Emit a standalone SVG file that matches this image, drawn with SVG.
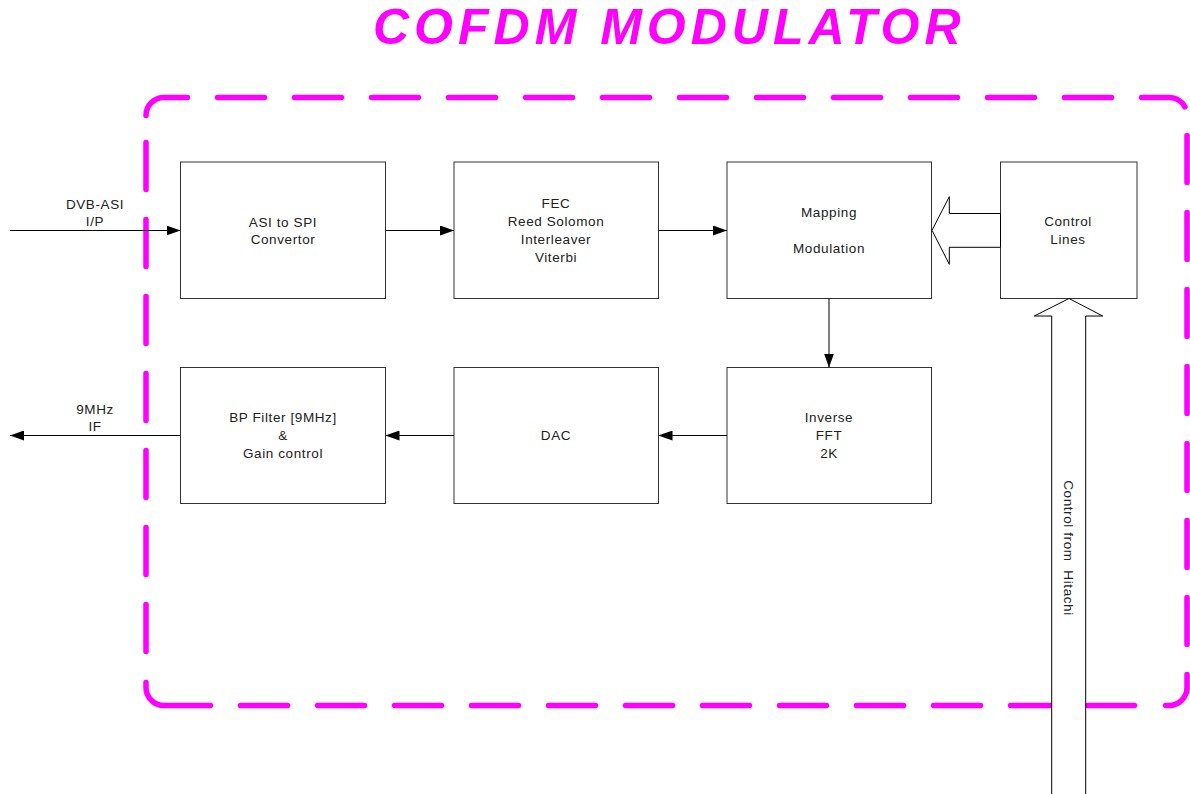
<svg xmlns="http://www.w3.org/2000/svg" width="1190" height="794" viewBox="0 0 1190 794">
<style>
.border{fill:none;stroke:#FF00FF;stroke-width:5.5;stroke-linecap:round}
.dash{stroke-dasharray:47 30}
.box{fill:#fff;stroke:#333;stroke-width:1}
.lbl{font-family:"Liberation Sans",Arial,sans-serif;font-size:13.5px;letter-spacing:0.6px;fill:#222;text-anchor:middle}
.line{stroke:#000;stroke-width:1;fill:none}
.blk{fill:#fff;stroke:#000;stroke-width:1}
.title{font-family:"Liberation Sans",Arial,sans-serif;font-size:50px;font-weight:bold;font-style:italic;fill:#FF00FF;letter-spacing:5px}
</style>
<defs>
<marker id="ah" viewBox="0 0 14 10" refX="14" refY="5" markerWidth="14" markerHeight="10" markerUnits="userSpaceOnUse" orient="auto">
<path d="M0,0 L14,5 L0,10 Z" fill="#000"/>
</marker>
</defs>
<rect width="1190" height="794" fill="#fff"/>
<text class="title" x="373" y="44">COFDM MODULATOR</text>
<g id="border">
<path class="border" d="M146,115.5 V115 A18,18 0 0 1 164,97.5 H187.5"/>
<path class="border" d="M1141.5,97.5 H1169 A18,18 0 0 1 1184.9,106.8"/>
<path class="border" d="M1187,674.5 V687.5 A18,18 0 0 1 1169,705.5 H1165.5"/>
<path class="border" d="M210.5,705.5 H164 A18,18 0 0 1 146,687.5 V682.5"/>
<path class="border dash" d="M217.5,97.5 H1112"/>
<path class="border dash" d="M1187,135.5 V645"/>
<path class="border dash" d="M240.5,705.5 H1135"/>
<path class="border dash" d="M146,142.5 V652"/>
</g>
<g id="asi2spi">
<rect class="box" x="180.5" y="162" width="205" height="136.5"/>
<text class="lbl" x="283" y="226.5">ASI to SPI</text>
<text class="lbl" x="283" y="244">Convertor</text>
</g>
<g id="fec">
<rect class="box" x="454" y="162" width="204.5" height="136.5"/>
<text class="lbl" x="556" y="208">FEC</text>
<text class="lbl" x="556" y="226">Reed Solomon</text>
<text class="lbl" x="556" y="244">Interleaver</text>
<text class="lbl" x="556" y="262">Viterbi</text>
</g>
<g id="mapping">
<rect class="box" x="727" y="162" width="204.5" height="136.5"/>
<text class="lbl" x="829" y="217">Mapping</text>
<text class="lbl" x="829" y="253">Modulation</text>
</g>
<g id="control">
<rect class="box" x="1000.5" y="162" width="136.5" height="136.5"/>
<text class="lbl" x="1068" y="225.5">Control</text>
<text class="lbl" x="1068" y="243.5">Lines</text>
</g>
<g id="bpfilter">
<rect class="box" x="180.5" y="367.5" width="205" height="136"/>
<text class="lbl" x="283" y="421.5">BP Filter [9MHz]</text>
<text class="lbl" x="283" y="439.5">&amp;</text>
<text class="lbl" x="283" y="457.5">Gain control</text>
</g>
<g id="dac">
<rect class="box" x="454" y="367.5" width="204.5" height="136"/>
<text class="lbl" x="556" y="440">DAC</text>
</g>
<g id="ifft">
<rect class="box" x="727" y="367.5" width="204.5" height="136"/>
<text class="lbl" x="829" y="422">Inverse</text>
<text class="lbl" x="829" y="440">FFT</text>
<text class="lbl" x="829" y="458">2K</text>
</g>
<g id="connectors">
<line class="line" x1="10" y1="230.5" x2="180.5" y2="230.5" marker-end="url(#ah)"/>
<text class="lbl" x="95" y="208.5">DVB-ASI</text>
<text class="lbl" x="95" y="226">I/P</text>
<line class="line" x1="385.5" y1="230.5" x2="454" y2="230.5" marker-end="url(#ah)"/>
<line class="line" x1="658.5" y1="230.5" x2="727" y2="230.5" marker-end="url(#ah)"/>
<line class="line" x1="829" y1="298.5" x2="829" y2="367.5" marker-end="url(#ah)"/>
<line class="line" x1="727" y1="435.5" x2="658.5" y2="435.5" marker-end="url(#ah)"/>
<line class="line" x1="454" y1="435.5" x2="385.5" y2="435.5" marker-end="url(#ah)"/>
<line class="line" x1="180.5" y1="435.5" x2="10" y2="435.5" marker-end="url(#ah)"/>
<text class="lbl" x="95" y="413.5">9MHz</text>
<text class="lbl" x="95" y="431">IF</text>
<polygon class="blk" points="1000.5,213.5 949.3,213.5 949.3,196.7 932,230.3 949.3,264.3 949.3,247.3 1000.5,247.3"/>
<polygon class="blk" points="1051.7,800 1051.7,316 1034.3,316 1069,298.5 1102.7,316 1085.7,316 1085.7,800"/>
<text class="lbl" x="1068" y="548" transform="rotate(90 1068 548)" dy="4.5" style="white-space:pre">Control from  Hitachi</text>
</g>
</svg>
